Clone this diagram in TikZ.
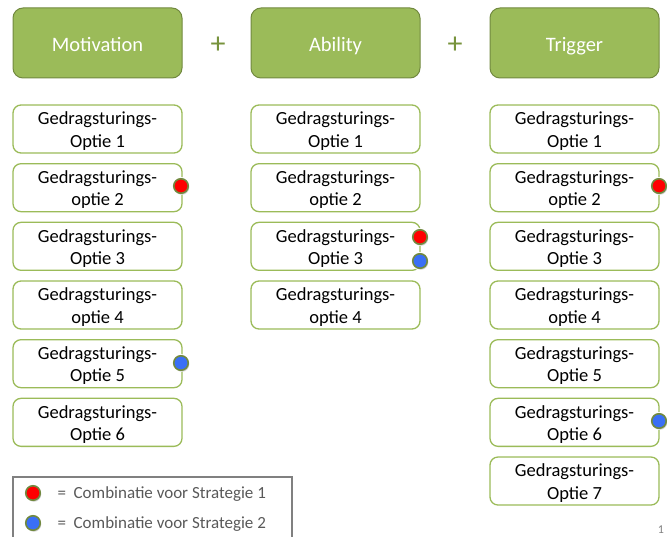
\documentclass[tikz,border=0pt]{standalone}
\usepackage{fontspec}
\setmainfont{Carlito}
\usepackage{xcolor}
\usetikzlibrary{shadows}
\definecolor{olivegreen}{HTML}{9BBB59}
\definecolor{darkolive}{HTML}{71893F}
\definecolor{plusgreen}{HTML}{77933C}
\definecolor{dotred}{HTML}{FF0000}
\definecolor{dotblue}{HTML}{3A6FF5}
\definecolor{legendgray}{HTML}{595959}
\newcommand\optiontext[2]{\raisebox{-2.5pt}[\height][\depth]{\begin{tabular}{@{}c@{}}Gedragsturings-\\#1 #2\end{tabular}}}

\begin{document}
\begin{tikzpicture}[x=1pt,y=-1pt]
\tikzset{
	head node/.style = {rectangle, rounded corners=10pt, draw=darkolive, line width=1pt, fill=olivegreen,
		minimum width=169pt, minimum height=70pt, text height=18pt, text depth=0pt,
		text=white, font=\fontsize{20.5}{24}\selectfont},
	option node/.style = {rectangle, rounded corners=8pt, draw=olivegreen, line width=1.3pt, fill=white,
		minimum width=169pt, minimum height=48pt, align=center, inner sep=0pt,
		font=\fontsize{18.5}{22.5}\selectfont},
	plus node/.style = {text=plusgreen, font=\fontsize{30}{30}\selectfont},
	red dot/.style = {circle, draw=darkolive, line width=1.6pt, fill=dotred, minimum size=14.5pt, inner sep=0pt,
		drop shadow={opacity=0.35, shadow xshift=1pt, shadow yshift=-1.5pt}},
	blue dot/.style = {red dot, fill=dotblue},
	gap/.style = {circle, fill=white, minimum size=18pt, inner sep=0pt},
	legend text/.style = {anchor=west, text=legendgray, font=\fontsize{17}{19}\selectfont},
}
\useasboundingbox (0,0) rectangle (667,537);
\clip (0,0) rectangle (667,537);

% headers
\node(mot)[head node] at (97.5,43) {Motivation};
\node(abi)[head node] at (335.5,43) {Ability};
\node(trg)[head node] at (574.5,43) {Trigger};
\node(plus1)[plus node] at (218,45) {+};
\node(plus2)[plus node] at (455,45) {+};

% option boxes
\foreach \i/\o in {1/Optie,2/optie,3/Optie,4/optie,5/Optie,6/Optie}
	\node(m\i)[option node] at (97.5,{129+(\i-1)*58.67}) {\optiontext{\o}{\i}};
\foreach \i/\o in {1/Optie,2/optie,3/Optie,4/optie}
	\node(a\i)[option node] at (335.5,{129+(\i-1)*58.67}) {\optiontext{\o}{\i}};
\foreach \i/\o in {1/Optie,2/optie,3/Optie,4/optie,5/Optie,6/Optie,7/Optie}
	\node(t\i)[option node] at (574.5,{129+(\i-1)*58.67}) {\optiontext{\o}{\i}};

% combinations
\foreach \p/\x/\y in {g1/181/186,g2/181/363,g3/420/237,g4/420/261,g5/659/186,g6/659/421}
	\node(\p)[gap] at (\x,\y) {};
\node(m2dot)[red dot] at (181,186) {};
\node(m5dot)[blue dot] at (181,363) {};
\node(a3red)[red dot] at (420,237) {};
\node(a3blue)[blue dot] at (420,261) {};
\node(t2dot)[red dot] at (659,186) {};
\node(t6dot)[blue dot] at (659,421) {};

% legend
\draw[gray, line width=1.5pt] (13,477) rectangle (292,560);
\node(leg1)[red dot] at (33,493) {};
\node(leg2)[blue dot] at (33,523) {};
\node(leg1text)[legend text] at (54,494) {=\ \ Combinatie voor Strategie 1};
\node(leg2text)[legend text] at (54,524) {=\ \ Combinatie voor Strategie 2};

\node(page)[text=gray, font=\fontsize{12}{13}\selectfont] at (661,530) {1};
\end{tikzpicture}
\end{document}
